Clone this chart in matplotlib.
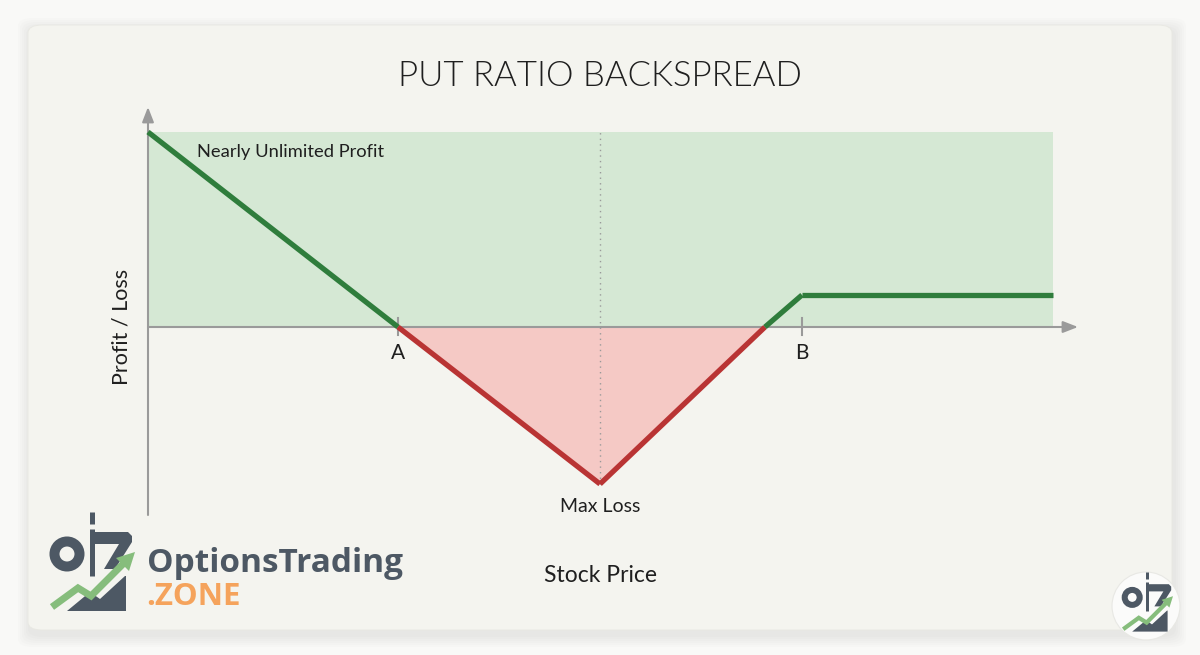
import matplotlib
matplotlib.use("Agg")
import matplotlib.pyplot as plt
import numpy as np
from matplotlib.patches import FancyBboxPatch, Circle, Polygon, Rectangle

# ---------------- data ----------------
title = "PUT RATIO BACKSPREAD"
x_label = "Stock Price"
y_label = "Profit / Loss"
stock_price = [0, 50, 90.4, 123.4, 130.8, 181]
profit_loss = [39, 0, -31.4, 0, 6.4, 6.4]
strike_labels = ["A", "B"]
strike_prices = [50, 130.8]
max_loss_price = 90.4
profit_zone_top = 39
annotations = ["Nearly Unlimited Profit", "Max Loss"]

# ---------------- style ----------------
FONT = ["Lato", "DejaVu Sans"]
GREEN = "#2f7d3c"
RED = "#b93434"
GREEN_FILL = "#d5e8d4"
RED_FILL = "#f5c9c5"
AXIS = "#9a9a9a"
TEXT = "#1f1f1f"
BG = "#f9f9f7"
CARD = "#f4f4ef"

W, H = 1200, 655
fig = plt.figure(figsize=(W / 100, H / 100), dpi=100)
fig.patch.set_facecolor(BG)

# card with soft shadow (figure pixel coords)
px = fig.transFigure
def fbox(x0, y0, w, h, **kw):
    return FancyBboxPatch((x0 / W, y0 / H), w / W, h / H,
                          boxstyle="round,pad=0,rounding_size=0.012",
                          transform=px, **kw)
for i in range(6):
    d = (6 - i) * 2.0
    fig.patches.append(fbox(28 - d + 2, 25 - d - 5, 1144 + 2 * d, 605 + 2 * d,
                            facecolor="#000000", alpha=0.012, edgecolor="none"))
fig.patches.append(fbox(28, 25, 1144, 605, facecolor=CARD, edgecolor="#e8e8e2", lw=0.6))

# main axes: data mapped so 1 unit = 5 px
ax = fig.add_axes([0, 0, 1, 1])
ax.set_zorder(2)
ax.set_xlim(-148 / 5, (W - 148) / 5)
ax.set_ylim(-(H - 327) / 5, 327 / 5)
ax.axis("off")
ax.patch.set_alpha(0)

sp = np.array(stock_price, float)
pl = np.array(profit_loss, float)
xmax = sp[-1]

# profit zone
ax.add_patch(Rectangle((0, 0), xmax, profit_zone_top, facecolor=GREEN_FILL,
                       edgecolor="none", zorder=1))
# loss zone
ax.fill_between(sp, pl, 0, where=pl <= 0, facecolor=RED_FILL, edgecolor="none",
                zorder=1.5, interpolate=True)

# dotted vertical at max loss
ax.plot([max_loss_price, max_loss_price], [pl.min(), profit_zone_top],
        color="#9a9a9a", lw=1.0, ls=(0, (1, 3)), zorder=2)

# axes arrows
ax.annotate("", xy=(186, 0), xytext=(0, 0),
            arrowprops=dict(arrowstyle="-|>,head_length=0.9,head_width=0.35",
                            color=AXIS, lw=1.5, shrinkA=0, shrinkB=0), zorder=3)
ax.annotate("", xy=(0, 44), xytext=(0, -37.6),
            arrowprops=dict(arrowstyle="-|>,head_length=0.9,head_width=0.35",
                            color=AXIS, lw=1.5, shrinkA=0, shrinkB=0), zorder=3)

# strike ticks and labels
for lab, s in zip(strike_labels, strike_prices):
    ax.plot([s, s], [-1.6, 1.8], color=AXIS, lw=1.5, zorder=3)
    ax.text(s, -5.2, lab, ha="center", va="center", fontsize=15, color=TEXT,
            family=FONT, zorder=4)

# payoff line, coloured by sign
for i in range(len(sp) - 1):
    mid = (pl[i] + pl[i + 1]) / 2
    ax.plot(sp[i:i + 2], pl[i:i + 2], color=GREEN if mid > 0 else RED, lw=3.8,
            solid_capstyle="butt", solid_joinstyle="miter", zorder=5)

# annotations
ax.text(9.8, 35, annotations[0], ha="left", va="center", fontsize=13.2,
        color=TEXT, family=FONT, zorder=6)
ax.text(max_loss_price, -35.8, annotations[1], ha="center", va="center",
        fontsize=14, color=TEXT, family=FONT, zorder=6)

ax.text(90.4, -49.6, x_label, ha="center", va="center", fontsize=16.5,
        color=TEXT, family=FONT)
ax.text(-5.2, 0, y_label, ha="center", va="center", rotation=90, fontsize=15.5,
        color=TEXT, family=FONT)

fig.text(0.5, 1 - 76 / H, title, ha="center", va="center", fontsize=25,
         color=TEXT, family=FONT, fontweight=300, zorder=5)

# ---------------- logo ----------------
lax = fig.add_axes([0, 0, 1, 1])
lax.set_zorder(3)
lax.set_xlim(0, W)
lax.set_ylim(H, 0)
lax.axis("off")
lax.patch.set_alpha(0)

DARK = "#4d5864"
LGREEN = "#86bd7c"

def icon(ox, oy, s):
    def P(pts):
        return [(ox + x * s, oy + y * s) for x, y in pts]
    lw = 0.72 * s  # px -> pt
    # dark base
    lax.add_patch(Polygon(P([(27, 101), (50, 82), (60, 89), (85, 66), (86, 66),
                             (86, 101)]),
                          closed=True, facecolor=DARK, edgecolor="none", zorder=10))
    # O ring
    lax.add_patch(Circle((ox + 27 * s, oy + 44 * s), 12.5 * s, facecolor="none",
                         edgecolor=DARK, lw=10 * lw, zorder=10))
    # stem (with small break)
    for y0, y1 in [(2, 14), (19, 66)]:
        lax.plot([ox + 52 * s, ox + 52 * s], [oy + y0 * s, oy + y1 * s], color=DARK,
                 lw=5 * lw, zorder=11, solid_capstyle="butt")
    # Z
    lax.add_patch(Polygon(P([(50, 22), (88, 22), (92, 26), (92, 32), (75, 59),
                             (64, 59), (79, 34), (50, 34)]),
                          closed=True, facecolor=DARK, edgecolor="none", zorder=10))
    # green arrow
    xs = [12, 38, 51, 84]
    ys = [97, 78, 86, 53]
    lax.plot([ox + x * s for x in xs], [oy + y * s for y in ys], color=LGREEN,
             lw=7 * lw, zorder=12, solid_joinstyle="miter", solid_capstyle="butt")
    lax.add_patch(Polygon(P([(95, 42), (76, 48), (89, 61)]), closed=True,
                          facecolor=LGREEN, edgecolor="none", zorder=12))

icon(40, 510, 1.0)
lax.text(147, 563, "OptionsTrading", ha="left", va="center",
         fontsize=24, fontweight="bold", color=DARK, family=["Open Sans", "DejaVu Sans"])
lax.text(146, 597, ".ZONE", ha="left", va="center",
         fontsize=22.5, fontweight="bold", color="#f5a35c", family=["Open Sans", "DejaVu Sans"])

# small round logo bottom-right
lax.add_patch(Circle((1146, 606), 34, facecolor="#fbfbfa", edgecolor="#e8e8e4",
                     lw=0.8, zorder=9))
icon(1116, 571, 0.6)

fig.savefig("out.png", dpi=100, facecolor=BG)
